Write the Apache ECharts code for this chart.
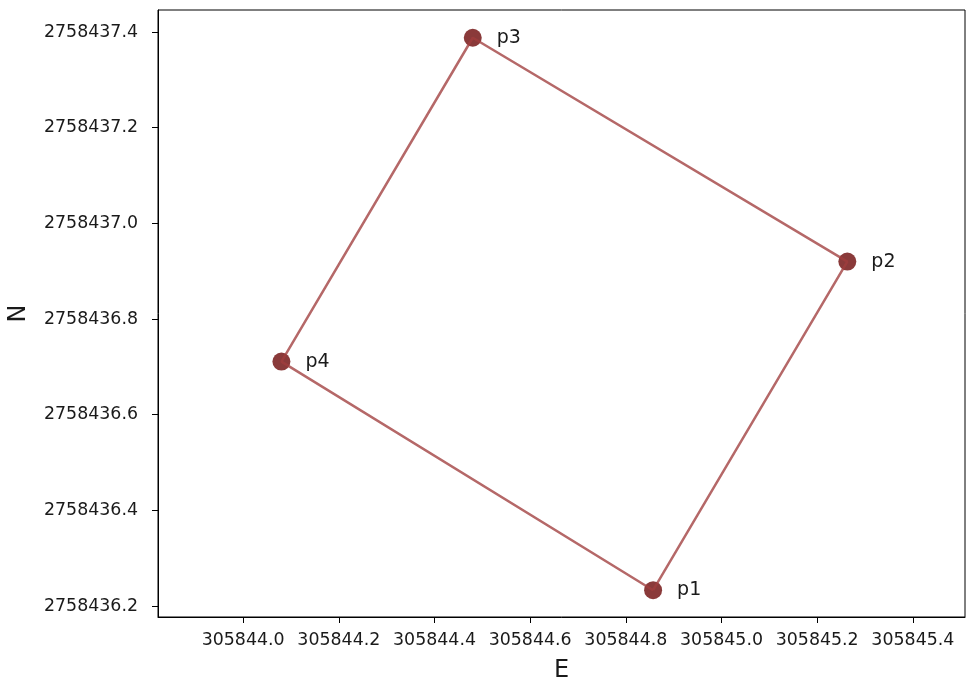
<!DOCTYPE html>
<html>
<head>
<meta charset="utf-8">
<script src="https://cdn.jsdelivr.net/npm/echarts@6/dist/echarts.min.js"></script>
<style>
html,body{margin:0;padding:0;background:#fff;}
#chart{width:966px;height:681px;}
</style>
</head>
<body>
<div id="chart"></div>
<script>
// Data
var pointNames = ['p1', 'p2', 'p3', 'p4'];
var eastValues = [305844.857, 305845.263, 305844.480, 305844.080];
var northValues = [2758436.233, 2758436.920, 2758437.388, 2758436.711];
var xTicks = [305844.0, 305844.2, 305844.4, 305844.6, 305844.8, 305845.0, 305845.2, 305845.4];
var yTicks = [2758436.2, 2758436.4, 2758436.6, 2758436.8, 2758437.0, 2758437.2, 2758437.4];
var xRange = [305843.822, 305845.509];
var yRange = [2758436.177, 2758437.446];

var pts = pointNames.map(function (n, i) { return { name: n, value: [eastValues[i], northValues[i]] }; });
var ring = pts.map(function (p) { return p.value; });
ring.push(pts[0].value);

var FONT = 'DejaVu Sans';
var chart = echarts.init(document.getElementById('chart'), null, { renderer: 'canvas' });
chart.setOption({
  animation: false,
  backgroundColor: '#ffffff',
  grid: { left: 158, top: 10, right: 1, bottom: 64, containLabel: false, outerBoundsMode: 'none',
    show: true, borderColor: '#000', borderWidth: 1, backgroundColor: 'transparent' },
  xAxis: {
    type: 'value', min: xRange[0], max: xRange[1],
    name: 'E', nameLocation: 'middle', nameGap: 42,
    nameTextStyle: { fontFamily: FONT, fontSize: 24, color: '#1a1a1a' },
    axisLine: { show: true, lineStyle: { color: '#000', width: 1 } },
    axisTick: { show: true, length: 6, customValues: xTicks, lineStyle: { color: '#000' } },
    axisLabel: { customValues: xTicks, margin: 15, fontFamily: FONT, fontSize: 17.4, color: '#1a1a1a',
      formatter: function (v) { return Number(v).toFixed(1); } },
    splitLine: { show: false }
  },
  yAxis: {
    type: 'value', min: yRange[0], max: yRange[1],
    name: 'N', nameLocation: 'middle', nameGap: 127, nameRotate: 90,
    nameTextStyle: { fontFamily: FONT, fontSize: 24, color: '#1a1a1a' },
    axisLine: { show: true, lineStyle: { color: '#000', width: 1 } },
    axisTick: { show: true, length: 6, customValues: yTicks, lineStyle: { color: '#000' } },
    axisLabel: { customValues: yTicks, margin: 20, fontFamily: FONT, fontSize: 17.4, color: '#1a1a1a',
      formatter: function (v) { return Number(v).toFixed(1); } },
    splitLine: { show: false }
  },
  series: [
    {
      type: 'scatter', data: pts, symbolSize: 18, z: 2,
      itemStyle: { color: '#8a3a3a', opacity: 1 },
      label: { show: true, position: 'right', distance: 15, formatter: '{b}',
        fontFamily: FONT, fontSize: 19, color: '#1a1a1a' }
    },
    {
      type: 'line', data: ring, showSymbol: false, symbol: 'none', z: 3,
      lineStyle: { color: 'rgba(160,62,62,0.78)', width: 2.5 }
    }
  ]
});
</script>
</body>
</html>
